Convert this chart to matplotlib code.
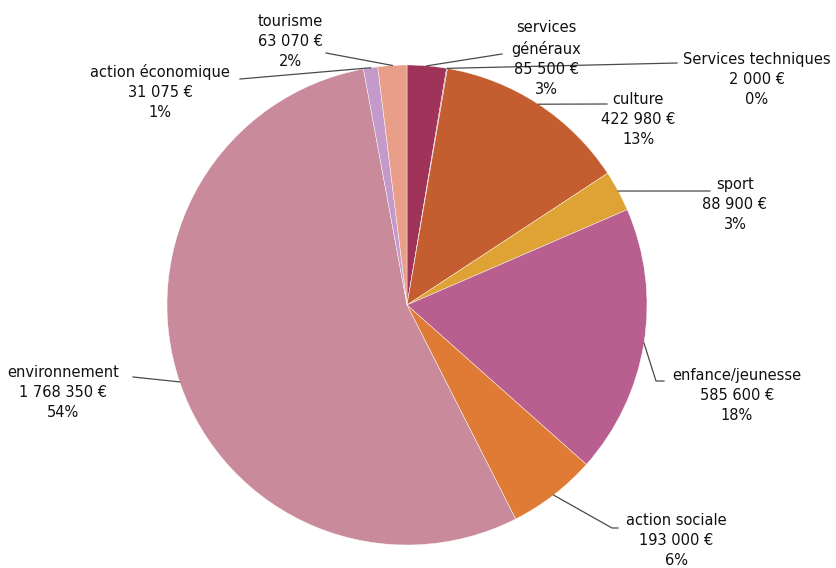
import numpy as np
import matplotlib.pyplot as plt

# budget by sector (euros), clockwise from 12 o'clock
labels = ["services\ngénéraux", "Services techniques", "culture", "sport",
          "enfance/jeunesse", "action sociale", "environnement",
          "action économique", "tourisme"]
amounts = [85500, 2000, 422980, 88900, 585600, 193000, 1768350, 31075, 63070]
pct_labels = ["3%", "0%", "13%", "3%", "18%", "6%", "54%", "1%", "2%"]
colors = ["#A0335A", "#9A4A6E", "#C45E30", "#DFA234", "#B85F90",
          "#E07B35", "#C98A9B", "#C49ACB", "#E89E88"]

# label layout in pixels: text centre x, first line y, leader path points
W, H = 837, 568
cx, cy, R = 407, 305, 240
label_pos = [(546, 28), (757, 60), (638, 100), (735, 185), (737, 376),
             (676, 521), (63, 373), (160, 72), (290, 22)]
leader_pts = [[(502, 54)], [(677, 63)], [(607, 104)], [(710, 191)],
              [(656, 381), (664, 381)], [(612, 528), (618, 528)],
              [(133, 377)], [(240, 79)], [(326, 53)]]


def fmt_eur(v):
    return f"{v:,}".replace(",", " ") + " €"


def to_data(px, py):
    return (px - cx) / R, (cy - py) / R


fig = plt.figure(figsize=(W / 100, H / 100), dpi=100)
ax = fig.add_axes([0, 0, 1, 1])

wedges, _ = ax.pie(amounts, colors=colors, startangle=90, counterclock=False,
                   radius=1.0, center=(0, 0),
                   wedgeprops=dict(edgecolor="white", linewidth=0.3))

ax.set_xlim(-cx / R, (W - cx) / R)
ax.set_ylim(-(H - cy) / R, cy / R)
ax.set_aspect("equal")
ax.axis("off")

for i, w in enumerate(wedges):
    ang = np.deg2rad((w.theta1 + w.theta2) / 2)
    pts = [(np.cos(ang), np.sin(ang))] + [to_data(*p) for p in leader_pts[i]]
    xs, ys = zip(*pts)
    ax.plot(xs, ys, color="#4a4a4a", lw=0.9)

    txt = f"{labels[i]}\n{fmt_eur(amounts[i])}\n{pct_labels[i]}"
    tx, ty = to_data(*label_pos[i])
    ax.text(tx, ty + 8 / R, txt, ha="center", va="top", fontsize=10.5,
            color="#111111", linespacing=1.43)

fig.savefig("out.png", dpi=100)
